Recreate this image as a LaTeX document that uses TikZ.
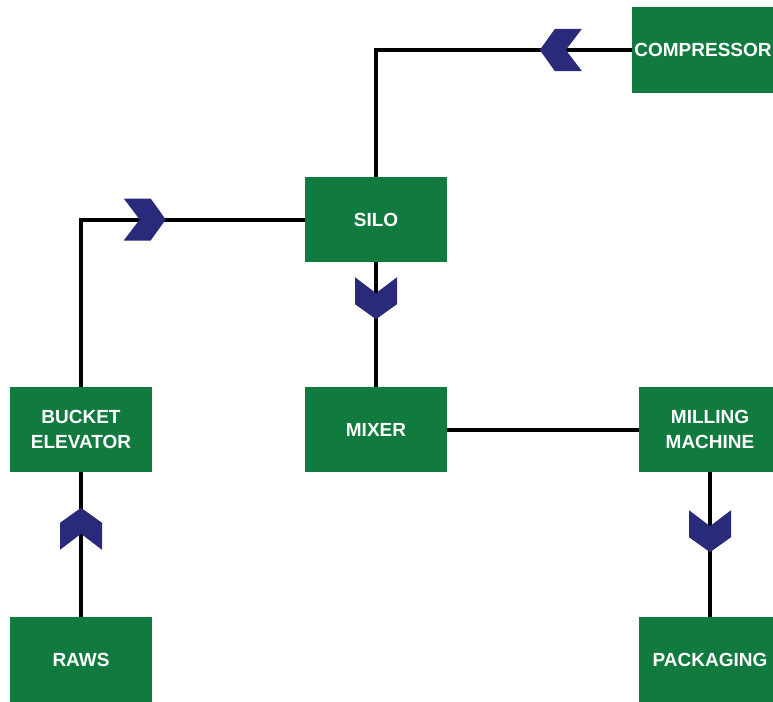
\documentclass[tikz,border=0pt]{standalone}
\usepackage{fontspec}
\setmainfont{Liberation Sans}
\usetikzlibrary{decorations.markings}
\definecolor{boxgreen}{RGB}{17,122,62}
\definecolor{chevnavy}{RGB}{42,42,122}
\tikzset{
  block/.style={fill=boxgreen, minimum width=142pt, minimum height=85pt, inner sep=0pt,
    text=white, font=\fontsize{19}{25}\selectfont\bfseries, align=center},
  link/.style={draw=black, line width=4pt},
  chev/.style={postaction={decorate, decoration={markings,
    mark=at position #1 with {\fill[chevnavy] (-21,-21) -- (6,-21) -- (21,0) -- (6,21) -- (-21,21) -- (-5,0) -- cycle;}}}}
}
\begin{document}
\begin{tikzpicture}[x=1pt, y=-1pt]
\useasboundingbox (0,0) rectangle (773,701);
\node[block] (comp) at (703,50) {COMPRESSOR};
\node[block] (silo) at (376,219.5) {SILO};
\node[block] (bucket) at (81,429.5) {BUCKET\\ELEVATOR};
\node[block] (mixer) at (376,429.5) {MIXER};
\node[block] (mill) at (710,429.5) {MILLING\\MACHINE};
\node[block] (raws) at (81,659.5) {RAWS};
\node[block] (pack) at (710,659.5) {PACKAGING};
\draw[link, chev=71pt] (comp.west) -| (silo.north);
\draw[link, chev=231pt] (bucket.north) |- (silo.west);
\draw[link, chev=36pt] (silo.south) -- (mixer.north);
\draw[link] (mixer.east) -- (mill.west);
\draw[link, chev=59pt] (mill.south) -- (pack.north);
\draw[link, chev=88pt] (raws.north) -- (bucket.south);
\end{tikzpicture}
\end{document}
